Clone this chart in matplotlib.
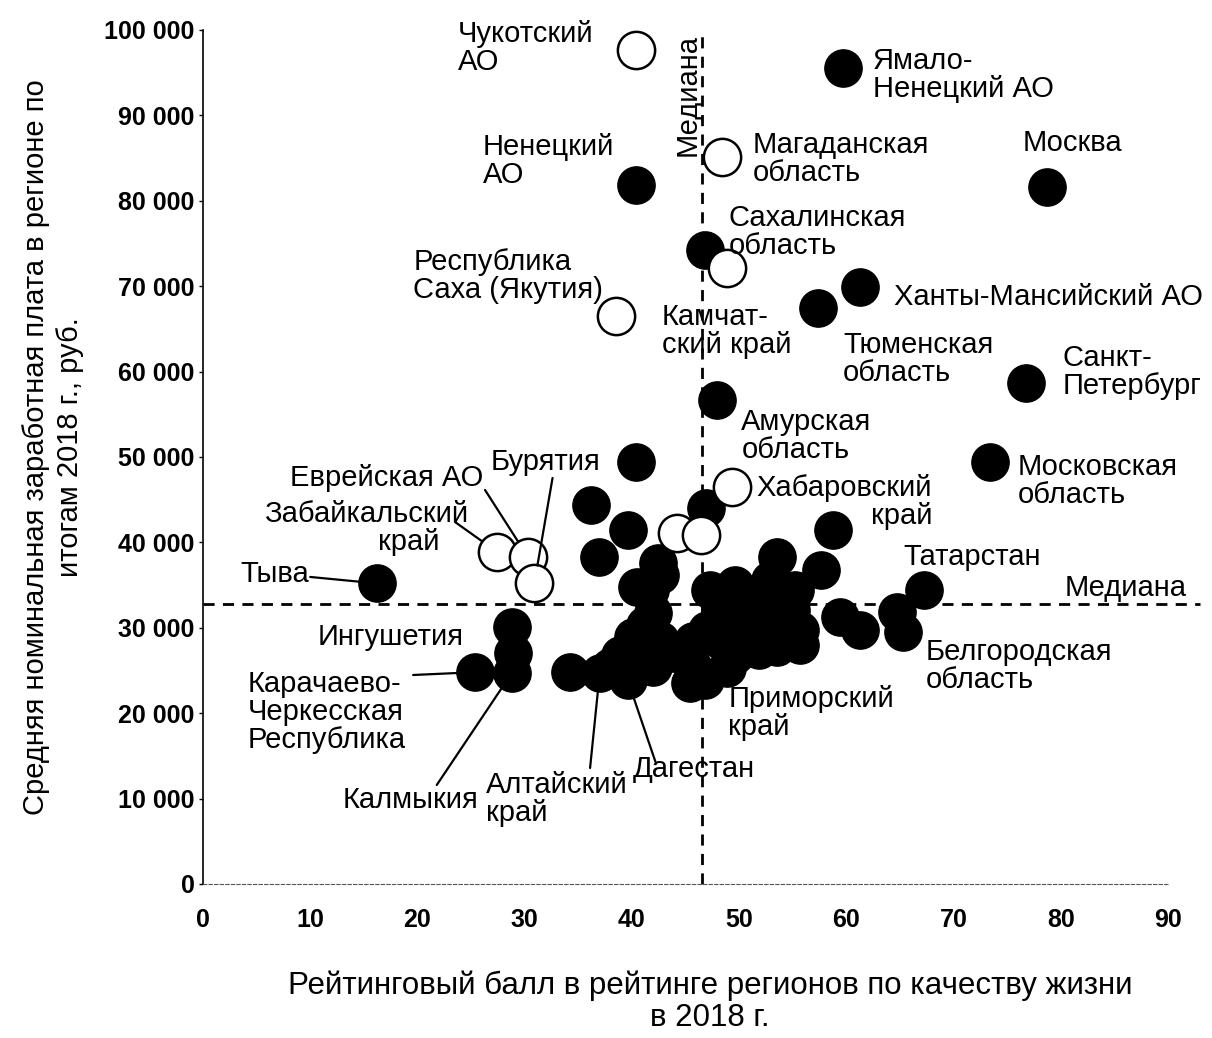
import matplotlib
matplotlib.use("Agg")
import matplotlib.pyplot as plt
from matplotlib.ticker import FuncFormatter

plt.rcParams['font.family'] = ['Liberation Sans', 'DejaVu Sans']

# ---- data: rating score (x) and average nominal wage, rub (y) ----
names = [
    "Чукотский АО", "Магаданская область", "Сахалинская область", "Якутия",
    "Хабаровский край", "Забайкальский край", "Еврейская АО", "Бурятия",
    "", "",
    "Ямало-Ненецкий АО", "Ненецкий АО", "Москва", "Камчатский край",
    "Ханты-Мансийский АО", "Тюменская область", "Санкт-Петербург",
    "Амурская область", "Московская область", "Тыва", "Татарстан",
    "Белгородская область", "Ингушетия", "Карачаево-Черкесская Республика",
    "Калмыкия", "Алтайский край", "Дагестан", "Приморский край",
]
score = [
    40.4, 48.4, 48.9, 38.5, 49.3, 27.4, 30.3, 30.9, 44.2, 46.4,
    59.7, 40.4, 78.7, 46.8, 61.3, 57.4, 76.8, 47.9, 73.4, 16.2, 67.2,
    65.3, 28.8, 25.4, 28.8, 37.0, 39.6, 48.9,
]
wage = [
    97700, 85100, 72100, 66500, 46500, 38900, 38300, 35200, 41100, 40900,
    95600, 81900, 81600, 74200, 69900, 67400, 58700, 56700, 49400, 35200,
    34400, 29500, 30100, 24800, 24700, 24700, 23900, 25300,
]
hollow = [True] * 10 + [False] * 18

# other regions (unlabelled)
other_score = [
    40.4, 36.2, 39.6, 36.9, 46.9, 58.8, 64.7, 59.4, 61.3, 57.6, 28.9, 34.2,
    42.4, 40.5, 42.0, 40.1, 38.0, 42.0, 43.8, 45.7, 47.3, 47.0, 45.7, 46.8,
    48.2, 49.6, 50.7, 52.9, 53.5, 51.7, 50.1, 52.0, 54.8, 55.7, 53.4, 41.7,
    40.8, 42.6, 45.4, 50.1, 51.9, 48.2, 41.2, 42.6, 49.6, 55.2, 38.9, 53.5,
    55.7,
]
other_wage = [
    49400, 44400, 41500, 38300, 44000, 41500, 31900, 31300, 29700, 36800, 27000, 24800,
    37600, 34800, 31700, 28900, 25400, 25400, 27000, 28500, 34400, 29700, 25400, 23900,
    28600, 26800, 33300, 35600, 27800, 30100, 30900, 33300, 32100, 29700, 30300, 34400,
    27400, 28600, 23500, 27400, 27400, 32100, 30300, 36200, 35000, 34400, 26800, 38300,
    28000,
]

median_score = 46.5
median_wage = 32800

x_ticks = list(range(0, 91, 10))
y_ticks = list(range(0, 100001, 10000))

# ---- label layout ----
# name -> (text, x, y, ha)
labels = {
    "Чукотский АО": ("Чукотский\nАО", 23.8, 97900, "left"),
    "Ямало-Ненецкий АО": ("Ямало-\nНенецкий АО", 62.5, 94700, "left"),
    "Ненецкий АО": ("Ненецкий\nАО", 26.1, 84660, "left"),
    "Магаданская область": ("Магаданская\nобласть", 51.3, 84900, "left"),
    "Москва": ("Москва", 76.4, 86770, "left"),
    "Сахалинская область": ("Сахалинская\nобласть", 49.0, 76350, "left"),
    "Якутия": ("Республика\nСаха (Якутия)", 19.6, 71200, "left"),
    "Ханты-Мансийский АО": ("Ханты-Мансийский АО", 64.4, 68740, "left"),
    "Камчатский край": ("Камчат-\nский край", 42.8, 64760, "left"),
    "Тюменская область": ("Тюменская\nобласть", 59.7, 61480, "left"),
    "Санкт-Петербург": ("Санкт-\nПетербург", 80.2, 59960, "left"),
    "Амурская область": ("Амурская\nобласть", 50.2, 52460, "left"),
    "Московская область": ("Московская\nобласть", 76.0, 47190, "left"),
    "Хабаровский край": ("Хабаровский\nкрай", 68.0, 44730, "right"),
    "Еврейская АО": ("Еврейская АО", 26.1, 47540, "right"),
    "Бурятия": ("Бурятия", 26.8, 49420, "left"),
    "Тыва": ("Тыва", 3.5, 36300, "left"),
    "Ингушетия": ("Ингушетия", 10.7, 28920, "left"),
    "Карачаево-Черкесская Республика": ("Карачаево-\nЧеркесская\nРеспублика", 4.2, 20140, "left"),
    "Калмыкия": ("Калмыкия", 13.0, 9840, "left"),
    "Алтайский край": ("Алтайский\nкрай", 26.4, 9950, "left"),
    "Дагестан": ("Дагестан", 40.1, 13470, "left"),
    "Приморский край": ("Приморский\nкрай", 49.0, 20020, "left"),
    "Татарстан": ("Татарстан", 65.3, 38290, "left"),
    "Белгородская область": ("Белгородская\nобласть", 67.4, 25530, "left"),
}
# name -> start of the leader line (x, y)
leaders = {
    "Тыва": (10.0, 35950),
    "Забайкальский край": (23.5, 42390),
    "Еврейская АО": (26.3, 46140),
    "Бурятия": (32.6, 47540),
    "Карачаево-Черкесская Республика": (19.6, 24470),
    "Калмыкия": (21.8, 11590),
    "Алтайский край": (36.1, 13580),
    "Дагестан": (42.2, 14290),
}

fig = plt.figure(figsize=(12.12, 10.38), dpi=100)
ax = fig.add_axes([0.1675, 0.1484, 0.7962, 0.8227])

ax.set_xlim(0, 90)
ax.set_ylim(0, 100000)

# median lines
ax.plot([median_score, median_score], [0, 100000], ls=(0, (4, 3)), color='black', lw=2, zorder=1, clip_on=False)
ax.plot([0, 93], [median_wage, median_wage], ls=(0, (4, 3)), color='black', lw=2, zorder=1, clip_on=False)

S = 720
ax.scatter(other_score, other_wage, s=S, color='black', edgecolor='black', zorder=3)
fs = [s for s, h in zip(score, hollow) if not h]
fw = [w for w, h in zip(wage, hollow) if not h]
hs = [s for s, h in zip(score, hollow) if h]
hw = [w for w, h in zip(wage, hollow) if h]
ax.scatter(fs, fw, s=S, color='black', edgecolor='black', zorder=3)
ax.scatter(hs, hw, s=S, facecolor='white', edgecolor='black', linewidth=1.8, zorder=4)

FS = 21
for n, (t, lx, ly, ha) in labels.items():
    ax.text(lx, ly, t, ha=ha, va='center', fontsize=FS, linespacing=1.0, zorder=6, clip_on=False)
ax.text(24.7, 43330, "Забайкальский", ha='right', va='center', fontsize=FS, zorder=6)
ax.text(22.1, 40050, "край", ha='right', va='center', fontsize=FS, zorder=6)

for n, (sx, sy) in leaders.items():
    i = names.index(n)
    ax.annotate('', xy=(score[i], wage[i]), xytext=(sx, sy),
                arrowprops=dict(arrowstyle='-', color='black', lw=1.6, shrinkA=0, shrinkB=13),
                zorder=5)

ax.text(80.4, 34700, "Медиана", ha='left', va='center', fontsize=FS, clip_on=False)
ax.text(45.2, 92390, "Медиана", ha='center', va='center', rotation=90, fontsize=FS)

ax.set_xticks(x_ticks)
ax.set_yticks(y_ticks)
ax.yaxis.set_major_formatter(FuncFormatter(lambda v, p: f"{int(v):,}".replace(",", " ")))
for lab in ax.get_xticklabels() + ax.get_yticklabels():
    lab.set_fontweight('bold')
    lab.set_fontsize(18)
ax.tick_params(axis='x', length=0, pad=17)
ax.tick_params(axis='y', length=3, width=1, pad=3)

ax.spines['top'].set_visible(False)
ax.spines['right'].set_visible(False)
ax.spines['left'].set_linewidth(1.2)
ax.spines['bottom'].set_linestyle((0, (3, 2)))
ax.spines['bottom'].set_color('#555555')
ax.spines['bottom'].set_linewidth(0.8)

fig.text(0.586, 0.035, "Рейтинговый балл в рейтинге регионов по качеству жизни\nв 2018 г.",
         ha='center', va='center', fontsize=22.5, linespacing=1.12)
fig.text(0.044, 0.569, "Средняя номинальная заработная плата в регионе по\nитогам 2018 г., руб.",
         ha='center', va='center', rotation=90, fontsize=FS, linespacing=1.27)

fig.savefig("out.png", dpi=100)
